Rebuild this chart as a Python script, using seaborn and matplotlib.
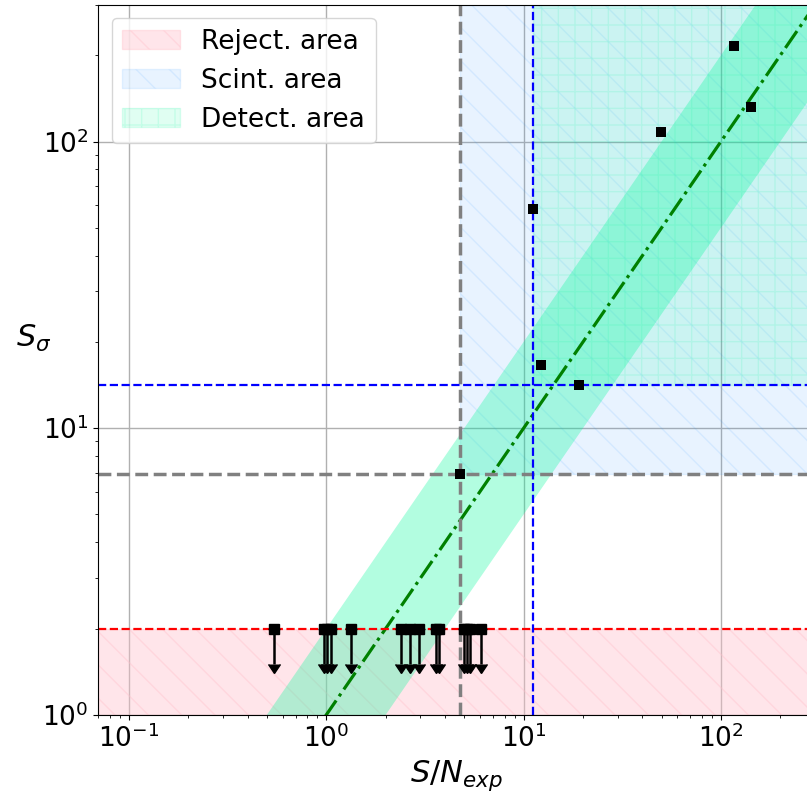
import numpy as np
import pandas as pd
import matplotlib
matplotlib.use("Agg")
import matplotlib.pyplot as plt
import seaborn as sns


# -----------------------------
# Data
# -----------------------------
# detected sources (S/N_exp, S_sigma)
det_snr = [4.75, 11.1, 12.2, 19.1, 49.5, 117, 142]
det_ssig = [6.93, 58.1, 16.6, 14.2, 108, 216, 132]

# upper limits at S_sigma = 2
ul_snr = [0.54, 0.97, 1.01, 1.05, 1.33, 2.4, 2.65, 2.95, 3.6, 3.72, 4.98, 5.15, 5.35, 6.05]
ul_ssig = [2.0] * len(ul_snr)

# thresholds
reject_level = 2.0
scint_snr, scint_ssig = 4.75, 6.93
detect_snr, detect_ssig = 11.1, 14.2

# expected relation S_sigma = S/N_exp, band factor 2
band_x = [0.3, 1.0, 10.0, 100.0, 1000.0]
band_factor = 2.0

xlim = (0.07, 300)
ylim = (1, 300)


# -----------------------------
# Style
# -----------------------------
sns.set_style("ticks", {"text.color": "black", "axes.labelcolor": "black",
                        "xtick.color": "black", "ytick.color": "black"})
plt.rcParams["font.family"] = ["DejaVu Sans"]
plt.rcParams["hatch.linewidth"] = 1.0

fig = plt.figure(figsize=(8.07, 8.0), dpi=100)
ax = fig.add_axes([0.122, 0.1065, 0.888, 0.8875])
ax.set_xscale("log")
ax.set_yscale("log")


# -----------------------------
# Areas
# -----------------------------
ax.fill_between(xlim, ylim[0], reject_level, color="pink", alpha=0.4,
                hatch="\\", label="Reject. area", zorder=1)
ax.fill_between([scint_snr, xlim[1]], scint_ssig, ylim[1], color="dodgerblue",
                alpha=0.1, hatch="\\", label="Scint. area", zorder=1)
ax.fill_between([detect_snr, xlim[1]], detect_ssig, ylim[1], color="mediumspringgreen",
                alpha=0.12, hatch="+", label="Detect. area", zorder=1)

bx = np.array(band_x)
ax.fill_between(bx, bx / band_factor, bx * band_factor, color="mediumspringgreen",
                alpha=0.3, lw=0, zorder=1.5)
line_df = pd.DataFrame({"x": bx, "y": bx})
sns.lineplot(data=line_df, x="x", y="y", ax=ax, color="green", linestyle="-.",
             lw=2.3, zorder=2)

# threshold lines
ax.axhline(reject_level, color="red", ls="--", lw=1.6, zorder=2)
ax.axvline(scint_snr, color="grey", ls="--", lw=2.5, zorder=2)
ax.axhline(scint_ssig, color="grey", ls="--", lw=2.5, zorder=2)
ax.axvline(detect_snr, color="blue", ls="--", lw=1.6, zorder=2)
ax.axhline(detect_ssig, color="blue", ls="--", lw=1.6, zorder=2)


# -----------------------------
# Points
# -----------------------------
ax.errorbar(ul_snr, ul_ssig, yerr=0.5, uplims=True, fmt="s", color="k",
            ms=7, elinewidth=1.8, capsize=4.5, zorder=3)
pts = pd.DataFrame({"snr": det_snr, "ssig": det_ssig})
sns.scatterplot(data=pts, x="snr", y="ssig", ax=ax, marker="s", color="k",
                s=60, edgecolor="k", linewidth=0, zorder=4)


# -----------------------------
# Axes
# -----------------------------
ax.set_xlim(*xlim)
ax.set_ylim(*ylim)
ax.grid(True, which="major", color="#b0b0b0", lw=1.0, zorder=0)
ax.set_axisbelow(True)
ax.tick_params(labelsize=19, colors="black")
ax.set_xlabel(r"$S/N_{exp}$", fontsize=22)
ax.set_ylabel(r"$S_\sigma$", fontsize=22, rotation=0, ha="center", va="center")
ax.yaxis.set_label_coords(-0.09, 0.53)
for s in ax.spines.values():
    s.set_color("k")

ax.legend(loc="upper left", fontsize=19, framealpha=0.8, handlelength=2.2)

plt.savefig("out.png", dpi=100)
